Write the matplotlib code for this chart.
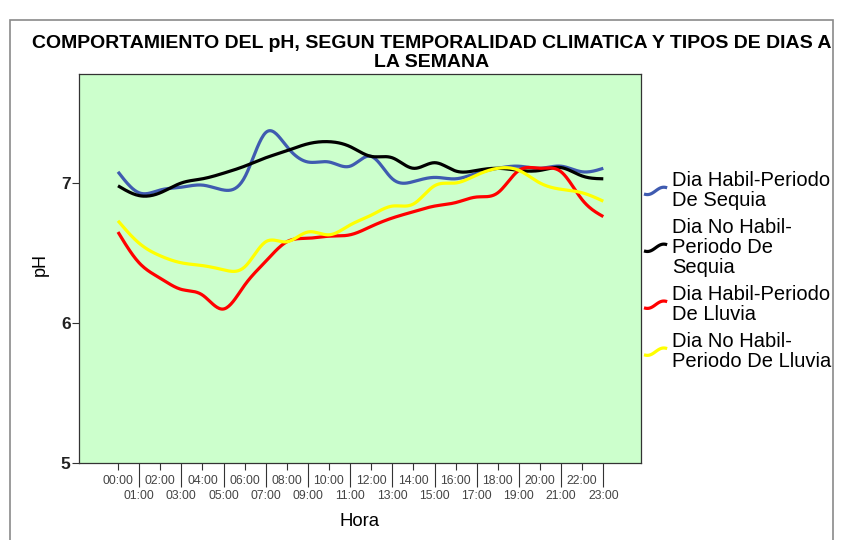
import numpy as np
import matplotlib
matplotlib.use("Agg")
import matplotlib.pyplot as plt
from matplotlib.lines import Line2D
from matplotlib.patches import Rectangle
from matplotlib.legend_handler import HandlerBase

plt.rcParams['font.family'] = ['Liberation Sans', 'DejaVu Sans']

hours = list(range(24))
hour_labels = [f"{h:02d}:00" for h in hours]

habil_sequia = [7.08, 6.93, 6.95, 6.97, 6.985, 6.95, 7.04, 7.36, 7.26, 7.15, 7.15, 7.12,
                7.19, 7.03, 7.01, 7.04, 7.03, 7.07, 7.105, 7.12, 7.105, 7.12, 7.08, 7.105]
nohabil_sequia = [6.98, 6.91, 6.93, 7.00, 7.03, 7.07, 7.12, 7.18, 7.23, 7.28, 7.295, 7.26,
                  7.19, 7.18, 7.105, 7.145, 7.086, 7.09, 7.105, 7.09, 7.09, 7.11, 7.05, 7.03]
habil_lluvia = [6.65, 6.43, 6.32, 6.24, 6.20, 6.10, 6.27, 6.44, 6.58, 6.605, 6.62, 6.63,
                6.69, 6.75, 6.795, 6.835, 6.86, 6.90, 6.93, 7.09, 7.105, 7.08, 6.88, 6.76]
nohabil_lluvia = [6.73, 6.57, 6.48, 6.43, 6.41, 6.38, 6.40, 6.58, 6.58, 6.65, 6.63, 6.70,
                  6.77, 6.835, 6.85, 6.98, 7.00, 7.057, 7.105, 7.09, 7.00, 6.955, 6.93, 6.87]

series_names = ["Dia Habil-Periodo\nDe Sequia",
                "Dia No Habil-\nPeriodo De\nSequia",
                "Dia Habil-Periodo\nDe Lluvia",
                "Dia No Habil-\nPeriodo De Lluvia"]
series_values = [habil_sequia, nohabil_sequia, habil_lluvia, nohabil_lluvia]
series_colors = ["#3f5bb0", "#000000", "#ff0000", "#ffff00"]


def natural_spline(x, y, n=20):
    x = np.asarray(x, float)
    y = np.asarray(y, float)
    m = len(x)
    h = np.diff(x)
    A = np.zeros((m, m))
    b = np.zeros(m)
    A[0, 0] = A[-1, -1] = 1
    for i in range(1, m - 1):
        A[i, i - 1] = h[i - 1]
        A[i, i] = 2 * (h[i - 1] + h[i])
        A[i, i + 1] = h[i]
        b[i] = 6 * ((y[i + 1] - y[i]) / h[i] - (y[i] - y[i - 1]) / h[i - 1])
    M = np.linalg.solve(A, b)
    xs, ys = [], []
    for i in range(m - 1):
        t = np.linspace(x[i], x[i + 1], n, endpoint=(i == m - 2))
        a = x[i + 1] - t
        c = t - x[i]
        s = (M[i] * a ** 3 + M[i + 1] * c ** 3) / (6 * h[i]) + \
            (y[i] / h[i] - M[i] * h[i] / 6) * a + (y[i + 1] / h[i] - M[i + 1] * h[i] / 6) * c
        xs.append(t)
        ys.append(s)
    return np.concatenate(xs), np.concatenate(ys)


class WaveHandler(HandlerBase):
    def create_artists(self, legend, orig_handle, xdescent, ydescent,
                       width, height, fontsize, trans):
        t = np.linspace(0, 1, 40)
        x = -xdescent + width * t
        y = -ydescent + height * (0.5 + 0.22 * (-np.cos(np.pi * t)) - 0.08 * np.sin(2 * np.pi * t))
        ln = Line2D(x, y, color=orig_handle.get_color(),
                    linewidth=orig_handle.get_linewidth(), transform=trans,
                    solid_capstyle="butt")
        return [ln]


fig = plt.figure(figsize=(8.42, 5.40), dpi=100)
fig.patch.set_facecolor("white")

# outer frame
fig.patches.append(Rectangle((10 / 842, -0.05), (833 - 10) / 842, 1.05 - 20 / 540,
                             transform=fig.transFigure, fill=False,
                             edgecolor="#8a8a8a", linewidth=1.2))

ax = fig.add_axes([79 / 842, 77 / 540, (641 - 79) / 842, (463 - 74) / 540])
ax.set_facecolor("#ccffcc")

for vals, col in zip(series_values, series_colors):
    xs, ys = natural_spline(hours, vals)
    ax.plot(xs, ys, color=col, linewidth=2.3, solid_capstyle="butt")

ax.set_xlim(-(118 - 79) / 21.1, 23 + (641 - 603.3) / 21.1)
ax.set_ylim(5, 7 + (183 - 74) / 140)

ax.set_yticks([5, 6, 7])
ax.set_yticklabels(["5", "6", "7"], fontsize=12.5, fontweight="bold", color="#222222")
ax.tick_params(axis="y", length=5, width=0.8, color="#333333", pad=1)

even = hours[0::2]
odd = hours[1::2]
ax.set_xticks(even)
ax.set_xticklabels([hour_labels[h] for h in even], fontsize=8.8, color="#444444")
ax.set_xticks(odd, minor=True)
ax.set_xticklabels([hour_labels[h] for h in odd], minor=True, fontsize=8.8, color="#444444")
ax.tick_params(axis="x", which="major", length=5, width=0.8, color="#333333", pad=3.5)
ax.tick_params(axis="x", which="minor", length=17, width=0.8, color="#333333", pad=2.5)

for sp in ax.spines.values():
    sp.set_color("#333333")
    sp.set_linewidth(0.9)

fig.text(40 / 842, 1 - 265 / 540, "pH", rotation=90, fontsize=13, ha="center", va="center")
fig.text(360 / 842, 1 - 521 / 540, "Hora", fontsize=13.4, ha="center", va="center")

fig.text(432 / 842, 1 - 44 / 540,
         "COMPORTAMIENTO DEL pH, SEGUN TEMPORALIDAD CLIMATICA Y TIPOS DE DIAS A",
         fontsize=14, fontweight="bold", ha="center", va="center")
fig.text(432 / 842, 1 - 62.5 / 540, "LA SEMANA",
         fontsize=14, fontweight="bold", ha="center", va="center")

handles = [Line2D([], [], color=c, linewidth=2.3) for c in series_colors]
leg = fig.legend(handles, series_names, loc="upper left",
                 bbox_to_anchor=(644 / 842, 1 - 171 / 540), frameon=False,
                 fontsize=14.5, handlelength=1.15, handletextpad=0.25,
                 labelspacing=0.4, borderaxespad=0, borderpad=0,
                 handler_map={Line2D: WaveHandler()})
for t in leg.get_texts():
    t.set_linespacing(1.06)

fig.savefig("out.png", dpi=100)
